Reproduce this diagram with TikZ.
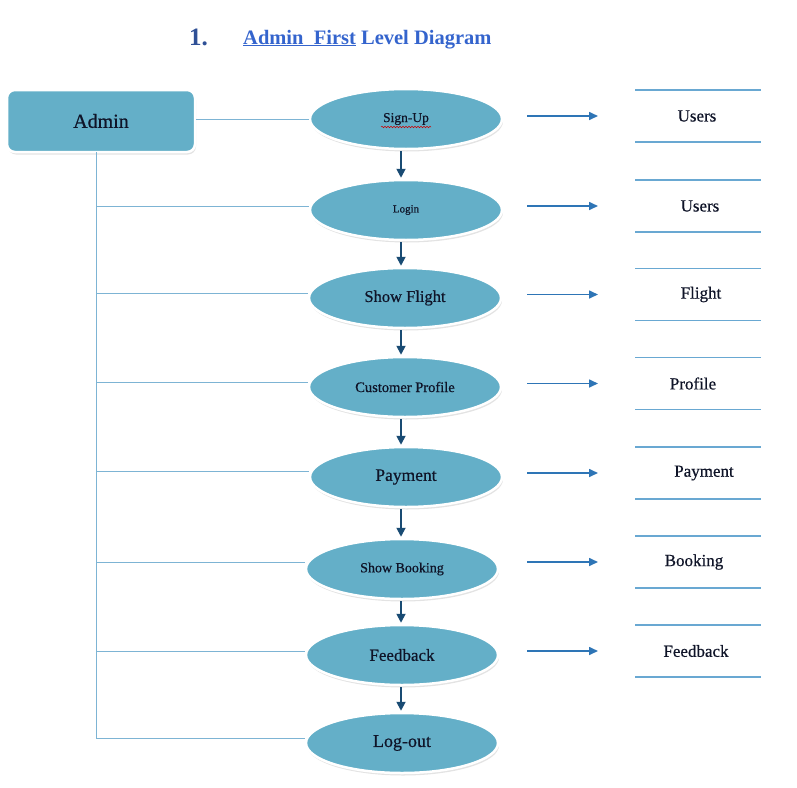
\documentclass[tikz,border=0pt]{standalone}
\usepackage{fontspec}
\setmainfont{Liberation Serif}
\newfontfamily\heavy[FakeBold=0.6]{Liberation Serif}
\usetikzlibrary{shapes.geometric,arrows.meta,shadows,calc,decorations.pathmorphing}
\definecolor{procfill}{RGB}{100,175,200}
\definecolor{adminline}{RGB}{125,180,212}
\definecolor{storeline}{RGB}{105,168,210}
\definecolor{rarrow}{RGB}{46,117,182}
\definecolor{darrow}{RGB}{25,75,115}
\definecolor{titleblue}{RGB}{52,100,205}
\definecolor{numblue}{RGB}{47,80,150}
\definecolor{txt}{RGB}{15,20,40}
\tikzset{
  proc/.style={ellipse, fill=procfill, draw=white, line width=2.5pt,
    minimum width=192pt, minimum height=60pt, inner sep=0pt, text=txt,
    drop shadow={shadow xshift=1pt, shadow yshift=-2.5pt, opacity=0.22}},
  adminbox/.style={rectangle, rounded corners=8pt, fill=procfill, draw=white,
    line width=2.5pt, minimum width=188pt, minimum height=62pt, text=txt,
    font=\heavy\fontsize{20}{24}\selectfont,
    drop shadow={shadow xshift=1pt, shadow yshift=-2.5pt, opacity=0.22}},
  store/.style={minimum width=40pt, minimum height=52pt, inner sep=0pt,
    text=txt, font=\heavy\fontsize{17}{20}\selectfont},
  sline/.style={draw=storeline, line width=1.1pt},
  al/.style={draw=adminline, line width=1pt},
  ra/.style={draw=rarrow, line width=1.6pt, -{Triangle[width=8pt,length=9pt]}},
  dn/.style={draw=darrow, line width=1.8pt, -{Triangle[width=9pt,length=9pt]}}
}
\begin{document}
\begin{tikzpicture}[x=1pt,y=-1pt]
\useasboundingbox (0,0) rectangle (797,787);
% title
\node[anchor=base west, text=numblue, font=\bfseries\fontsize{25}{28}\selectfont, inner sep=0pt] (num) at (189,45) {1.};
\node[anchor=base west, text=titleblue, font=\bfseries\fontsize{20.5}{24}\selectfont, inner sep=0pt] (ttl) at (243,44)
  {\underline{Admin\ \ First} Level Diagram};
% admin
\node[adminbox] (admin) at (101,121) {Admin};
% processes
\node[proc, font=\heavy\fontsize{13.5}{16}\selectfont] (su) at (406,119) {Sign-Up};
\node[proc, font=\heavy\fontsize{11}{13}\selectfont] (lo) at (406,210) {Login};
\node[proc, font=\heavy\fontsize{16.5}{19}\selectfont] (sf) at (405,298) {Show Flight};
\node[proc, font=\heavy\fontsize{14.5}{17}\selectfont] (cp) at (405,387) {Customer Profile};
\node[proc, font=\heavy\fontsize{17.5}{20}\selectfont] (pay) at (406,477) {Payment};
\node[proc, font=\heavy\fontsize{14}{16}\selectfont] (sb) at (402,569) {Show Booking};
\node[proc, font=\heavy\fontsize{17}{20}\selectfont] (fb) at (402,655) {Feedback};
\node[proc, font=\heavy\fontsize{18}{21}\selectfont] (lout) at (402,743) {Log-out};
% spell-check squiggle under Sign-Up
\draw[red!80!black, line width=0.5pt, decorate, decoration={snake, amplitude=0.8pt, segment length=3pt}]
  ($(su.center)+(-25,8)$) -- ($(su.center)+(25,8)$);
% stores
\node[store] (s1) at (697,116) {Users};
\node[store] (s2) at (700,206) {Users};
\node[store] (s3) at (701,294.5) {Flight};
\node[store] (s4) at (693,383.5) {Profile};
\node[store] (s5) at (704,473) {Payment};
\node[store] (s6) at (694,562) {Booking};
\node[store] (s7) at (696,651) {Feedback};
\coordinate (lx1) at (635,0);
\coordinate (lx2) at (761,0);
\foreach \s in {s1,s2,s3,s4,s5,s6,s7}{
  \draw[sline] ($(\s.center -| lx1)+(0,-26)$) -- ($(\s.center -| lx2)+(0,-26)$);
  \draw[sline] ($(\s.center -| lx1)+(0,26)$) -- ($(\s.center -| lx2)+(0,26)$);
}
% admin connectors
\coordinate (trunk) at (96,152);
\draw[al] (admin.east |- su.west) -- (su.west);
\draw[al] (trunk) |- ($(lo.west)+(0,-4)$);
\draw[al] (trunk) |- ($(sf.west)+(0,-5)$);
\draw[al] (trunk) |- ($(cp.west)+(0,-5)$);
\draw[al] (trunk) |- ($(pay.west)+(0,-6)$);
\draw[al] (trunk) |- ($(sb.west)+(0,-7)$);
\draw[al] (trunk) |- ($(fb.west)+(0,-4)$);
\draw[al] (trunk) |- ($(lout.west)+(0,-5)$);
% down arrows
\coordinate (dx) at (401,0);
\foreach \a/\b in {su/lo,lo/sf,sf/cp,cp/pay,pay/sb,sb/fb,fb/lout}{
  \draw[dn] ($(\a.south -| dx)+(0,1)$) -- ($(\b.north -| dx)+(0,-1)$);
}
% right arrows
\coordinate (rx1) at (527,0);
\coordinate (rx2) at (598,0);
\foreach \p/\s in {su/s1,lo/s2,sf/s3,cp/s4,pay/s5,sb/s6,fb/s7}{
  \draw[ra] (\s.west -| rx1) -- (\s.west -| rx2);
}
\end{tikzpicture}
\end{document}
